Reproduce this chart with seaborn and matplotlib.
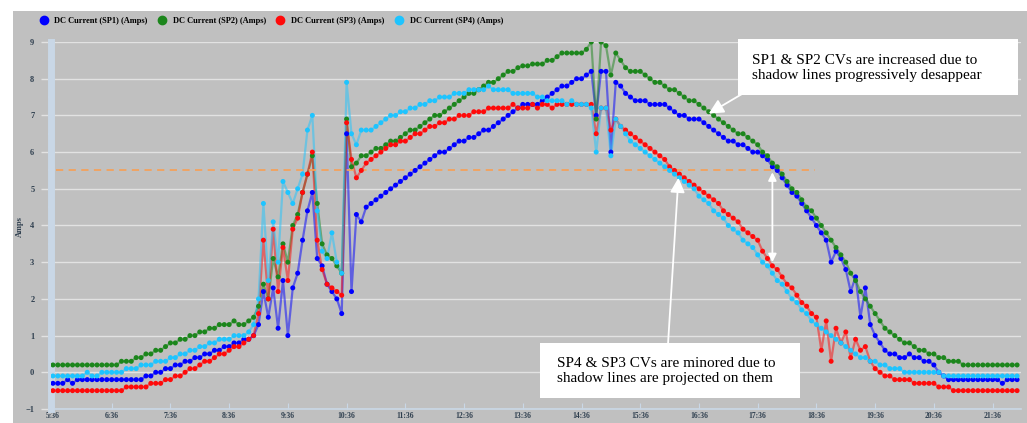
import matplotlib
matplotlib.use('Agg')
import matplotlib.pyplot as plt
import matplotlib.dates as mdates
from matplotlib.patches import Rectangle
from matplotlib.lines import Line2D
import seaborn as sns
import numpy as np
import pandas as pd

# readings every 5 minutes from 5:36 to 22:01 (one row per hour)
times = pd.date_range('2021-06-21 05:36', periods=198, freq='5min')

sp1 = [
    -0.3, -0.3, -0.3, -0.2, -0.3, -0.2, -0.2, -0.2, -0.2, -0.2, -0.2, -0.2,
    -0.2, -0.2, -0.2, -0.2, -0.2, -0.2, -0.2, -0.1, -0.1, 0.0, 0.0, 0.1,
    0.1, 0.2, 0.2, 0.3, 0.3, 0.4, 0.4, 0.5, 0.5, 0.6, 0.6, 0.7,
    0.7, 0.8, 0.8, 0.9, 0.9, 1.0, 1.3, 2.2, 1.5, 2.3, 1.2, 2.5,
    1.0, 2.3, 2.7, 3.6, 4.4, 4.9, 3.1, 2.9, 2.4, 2.2, 2.0, 1.6,
    6.5, 2.2, 4.3, 4.1, 4.5, 4.6, 4.7, 4.8, 4.9, 5.0, 5.1, 5.2,
    5.3, 5.4, 5.5, 5.6, 5.7, 5.8, 5.9, 6.0, 6.0, 6.1, 6.2, 6.3,
    6.3, 6.4, 6.4, 6.5, 6.6, 6.6, 6.7, 6.8, 6.9, 7.0, 7.1, 7.2,
    7.3, 7.3, 7.3, 7.3, 7.4, 7.5, 7.6, 7.7, 7.8, 7.8, 7.9, 8.0,
    8.0, 8.1, 8.2, 7.0, 8.2, 8.2, 6.0, 7.9, 7.8, 7.6, 7.5, 7.4,
    7.4, 7.4, 7.3, 7.3, 7.3, 7.3, 7.2, 7.1, 7.0, 7.0, 6.9, 6.9,
    6.9, 6.8, 6.7, 6.6, 6.5, 6.4, 6.3, 6.3, 6.2, 6.2, 6.1, 6.0,
    6.0, 5.9, 5.8, 5.6, 5.5, 5.3, 5.1, 4.9, 4.8, 4.6, 4.4, 4.2,
    4.0, 3.8, 3.6, 3.0, 3.3, 3.1, 2.8, 2.2, 2.6, 1.5, 2.3, 1.3,
    1.0, 0.8, 0.6, 0.5, 0.5, 0.4, 0.4, 0.5, 0.4, 0.4, 0.3, 0.3,
    0.2, 0.0, -0.1, -0.2, -0.2, -0.2, -0.2, -0.2, -0.2, -0.2, -0.2, -0.2,
    -0.2, -0.2, -0.3, -0.2, -0.2, -0.2,
]

sp2 = [
    0.2, 0.2, 0.2, 0.2, 0.2, 0.2, 0.2, 0.2, 0.2, 0.2, 0.2, 0.2,
    0.2, 0.2, 0.3, 0.3, 0.3, 0.4, 0.4, 0.5, 0.5, 0.6, 0.6, 0.7,
    0.8, 0.8, 0.9, 0.9, 1.0, 1.0, 1.1, 1.1, 1.2, 1.2, 1.3, 1.3,
    1.3, 1.4, 1.3, 1.3, 1.4, 1.5, 1.8, 2.4, 2.0, 3.1, 2.6, 3.5,
    3.0, 4.0, 4.3, 4.9, 5.4, 5.9, 4.6, 3.5, 3.2, 3.1, 2.9, 2.7,
    6.9, 5.6, 5.7, 5.9, 5.9, 6.0, 6.1, 6.1, 6.2, 6.3, 6.3, 6.4,
    6.5, 6.6, 6.6, 6.7, 6.8, 6.9, 7.0, 7.0, 7.1, 7.2, 7.3, 7.4,
    7.5, 7.6, 7.6, 7.7, 7.8, 7.9, 7.9, 8.0, 8.1, 8.2, 8.2, 8.3,
    8.35, 8.35, 8.4, 8.4, 8.4, 8.5, 8.5, 8.6, 8.7, 8.7, 8.7, 8.7,
    8.7, 8.8, 9.0, 6.9, 9.0, 8.9, 8.1, 8.7, 8.5, 8.3, 8.2, 8.2,
    8.2, 8.1, 8.0, 7.9, 7.9, 7.8, 7.7, 7.7, 7.6, 7.5, 7.4, 7.4,
    7.3, 7.2, 7.1, 7.0, 6.9, 6.8, 6.7, 6.6, 6.5, 6.5, 6.4, 6.3,
    6.2, 6.0, 5.9, 5.7, 5.6, 5.4, 5.2, 5.0, 4.9, 4.7, 4.5, 4.4,
    4.2, 4.0, 3.8, 3.6, 3.4, 3.2, 3.0, 2.7, 2.5, 2.2, 2.0, 1.8,
    1.6, 1.4, 1.2, 1.1, 1.0, 0.9, 0.8, 0.8, 0.7, 0.6, 0.6, 0.5,
    0.5, 0.4, 0.4, 0.3, 0.3, 0.3, 0.2, 0.2, 0.2, 0.2, 0.2, 0.2,
    0.2, 0.2, 0.2, 0.2, 0.2, 0.2,
]

sp3 = [
    -0.5, -0.5, -0.5, -0.5, -0.5, -0.5, -0.5, -0.5, -0.5, -0.5, -0.5, -0.5,
    -0.5, -0.5, -0.5, -0.4, -0.4, -0.4, -0.4, -0.4, -0.3, -0.3, -0.3, -0.2,
    -0.2, -0.1, -0.1, 0.0, 0.1, 0.1, 0.2, 0.3, 0.3, 0.4, 0.5, 0.5,
    0.6, 0.7, 0.7, 0.8, 0.9, 1.0, 1.6, 3.6, 2.0, 3.9, 2.2, 3.4,
    2.5, 3.9, 4.2, 4.9, 5.4, 6.0, 3.6, 2.8, 2.4, 2.3, 2.2, 2.1,
    6.8, 5.8, 5.3, 5.5, 5.7, 5.8, 5.9, 6.0, 6.1, 6.2, 6.2, 6.3,
    6.3, 6.4, 6.5, 6.5, 6.6, 6.7, 6.7, 6.8, 6.8, 6.9, 6.9, 7.0,
    7.0, 7.0, 7.1, 7.1, 7.1, 7.2, 7.2, 7.2, 7.2, 7.2, 7.3, 7.2,
    7.2, 7.2, 7.3, 7.2, 7.3, 7.3, 7.2, 7.3, 7.3, 7.3, 7.3, 7.3,
    7.3, 7.3, 7.3, 6.5, 7.2, 7.2, 6.6, 6.9, 6.7, 6.6, 6.5, 6.4,
    6.3, 6.2, 6.1, 6.0, 5.9, 5.8, 5.6, 5.5, 5.4, 5.3, 5.2, 5.1,
    5.0, 4.9, 4.8, 4.7, 4.6, 4.4, 4.3, 4.2, 4.1, 3.9, 3.8, 3.7,
    3.6, 3.3, 3.1, 2.9, 2.8, 2.6, 2.4, 2.3, 2.1, 1.9, 1.8, 1.6,
    1.5, 0.6, 1.4, 0.3, 1.2, 0.8, 1.1, 0.4, 0.9, 0.6, 0.7, 0.3,
    0.1, 0.0, -0.1, -0.1, -0.2, -0.2, -0.2, -0.2, -0.3, -0.3, -0.3, -0.3,
    -0.3, -0.4, -0.4, -0.4, -0.5, -0.5, -0.5, -0.5, -0.5, -0.5, -0.5, -0.5,
    -0.5, -0.5, -0.5, -0.5, -0.5, -0.5,
]

sp4 = [
    -0.1, -0.1, -0.1, -0.1, -0.1, -0.1, -0.1, 0.0, -0.1, -0.1, 0.0, 0.0,
    0.0, 0.0, 0.0, 0.1, 0.1, 0.1, 0.2, 0.2, 0.2, 0.3, 0.3, 0.3,
    0.4, 0.4, 0.5, 0.5, 0.6, 0.6, 0.7, 0.7, 0.8, 0.8, 0.9, 0.9,
    0.9, 1.0, 1.0, 1.0, 1.1, 1.3, 2.0, 4.6, 2.5, 4.1, 3.0, 5.2,
    4.9, 4.6, 5.0, 5.4, 6.6, 7.0, 4.4, 3.3, 3.1, 3.8, 3.0, 2.7,
    7.9, 6.5, 6.2, 6.6, 6.6, 6.6, 6.7, 6.8, 6.9, 7.0, 7.0, 7.1,
    7.1, 7.2, 7.2, 7.3, 7.3, 7.4, 7.4, 7.5, 7.5, 7.5, 7.6, 7.6,
    7.6, 7.7, 7.7, 7.7, 7.7, 7.8, 7.7, 7.7, 7.7, 7.7, 7.6, 7.6,
    7.6, 7.6, 7.6, 7.5, 7.5, 7.4, 7.4, 7.4, 7.4, 7.3, 7.4, 7.3,
    7.3, 7.3, 7.2, 6.0, 7.2, 7.2, 5.9, 6.9, 6.7, 6.5, 6.3, 6.2,
    6.1, 6.0, 5.9, 5.8, 5.7, 5.6, 5.5, 5.4, 5.3, 5.2, 5.1, 5.0,
    4.8, 4.7, 4.6, 4.4, 4.3, 4.2, 4.0, 3.9, 3.8, 3.6, 3.5, 3.4,
    3.2, 3.0, 2.9, 2.7, 2.5, 2.4, 2.2, 2.0, 1.9, 1.7, 1.6, 1.4,
    1.3, 1.2, 1.1, 1.0, 0.9, 0.8, 0.7, 0.6, 0.5, 0.4, 0.4, 0.3,
    0.3, 0.2, 0.2, 0.1, 0.1, 0.1, 0.0, 0.0, 0.0, 0.0, 0.0, 0.0,
    0.0, 0.0, -0.1, -0.1, -0.1, -0.1, -0.1, -0.1, -0.1, -0.1, -0.1, -0.1,
    -0.1, -0.1, -0.1, -0.1, -0.1, -0.1,
]

series_names = ['DC Current (SP1) (Amps)', 'DC Current (SP2) (Amps)',
                'DC Current (SP3) (Amps)', 'DC Current (SP4) (Amps)']
colors = ['#0000ff', '#1c861c', '#ff0a0a', '#1ec4ff']

# orange reference level and its time span
threshold = 5.5
threshold_start = pd.Timestamp('2021-06-21 05:39')
threshold_end = pd.Timestamp('2021-06-21 18:35')

tick_times = pd.date_range('2021-06-21 05:36', '2021-06-21 21:36', freq='1h')

note_top = 'SP1 & SP2 CVs are increased due to\nshadow lines progressively desappear'
note_bottom = 'SP4 & SP3 CVs are minored due to\nshadow lines are projected on them'

# long table for seaborn
wide = pd.DataFrame({'time': times, series_names[0]: sp1, series_names[1]: sp2,
                     series_names[2]: sp3, series_names[3]: sp4})
df = wide.melt(id_vars='time', var_name='series', value_name='amps')

plt.rcParams['font.family'] = ['Liberation Serif', 'DejaVu Serif']

W, H = 1027, 423
fig = plt.figure(figsize=(W / 100, H / 100), dpi=100)
fig.patch.set_facecolor('white')
fig.patches.append(Rectangle((13 / W, 0), 1, 1 - 11 / H, transform=fig.transFigure,
                             facecolor='#c0c0c0', edgecolor='none', zorder=-10))

ax = fig.add_axes([51 / W, 14 / H, (1021 - 51) / W, (409 - 42) / H])
ax.set_facecolor('#c0c0c0')

sns.lineplot(data=df, x='time', y='amps', hue='series', palette=colors,
             estimator=None, linewidth=1.6, alpha=0.5, legend=False, ax=ax)
sns.scatterplot(data=df, x='time', y='amps', hue='series', palette=colors,
                s=13, linewidth=0, legend=False, ax=ax, zorder=3)

ax.hlines(threshold, mdates.date2num(threshold_start), mdates.date2num(threshold_end),
          colors='#f4a15c', linestyles=(0, (4, 3)), linewidth=1.3, zorder=2.5)

ax.set_xlim(pd.Timestamp('2021-06-21 05:34'), pd.Timestamp('2021-06-21 22:05'))
ax.set_ylim(-1, 9)
ax.set_yticks(np.arange(-1, 10))
ax.set_yticks(np.arange(-0.5, 9, 1.0), minor=True)
ax.set_xticks(tick_times)
ax.set_xticklabels([f'{t.hour}:{t.minute:02d}' for t in tick_times])
ax.set_xlabel('')
ax.set_ylabel('')

ax.grid(axis='y', color='#e2e2e2', linewidth=1)
ax.set_axisbelow(True)
for s in ['top', 'right']:
    ax.spines[s].set_visible(False)
ax.spines['left'].set_color('#c9d7e6')
ax.spines['left'].set_linewidth(5)
ax.spines['bottom'].set_color('#c9d7e6')
ax.spines['bottom'].set_linewidth(1.2)

ax.tick_params(axis='y', which='major', direction='out', length=7, width=1,
               color='#e2e2e2', pad=5, labelsize=6, labelcolor='#2f3f4f')
ax.tick_params(axis='y', which='minor', direction='inout', length=5, width=1.2,
               color='#f2f2f2')
ax.tick_params(axis='x', direction='in', length=4, color='#c9d7e6', pad=2,
               labelsize=5.5, labelcolor='#2f3f4f')
for lab in ax.get_xticklabels() + ax.get_yticklabels():
    lab.set_fontweight('bold')

fig.text(20 / W, 1 - 227 / H, 'Amps', rotation=90, ha='center', va='center',
         fontsize=6, fontweight='bold', color='#2f3f4f')

handles = [Line2D([], [], marker='o', linestyle='', color=c, markersize=6) for c in colors]
fig.legend(handles, series_names, loc='center left', bbox_to_anchor=(32 / W, 1 - 21 / H),
           ncol=4, frameon=False, prop={'size': 6, 'weight': 'bold'},
           handlelength=1, handletextpad=0.8, columnspacing=1.2)

# white note boxes (figure pixels) with their arrows
def px(x, y):
    return (x / W, 1 - y / H)

for (x0, y0, x1, y1) in [(738, 39, 1018, 95), (540, 343, 800, 398)]:
    fig.patches.append(Rectangle(px(x0, y1), (x1 - x0) / W, (y1 - y0) / H,
                                 transform=fig.transFigure, facecolor='white',
                                 edgecolor='none', zorder=4))
fig.text(*px(752, 68), note_top, ha='left', va='center', fontsize=11, zorder=6)
fig.text(*px(557, 371), note_bottom, ha='left', va='center', fontsize=11, zorder=6)

arrow = dict(arrowstyle='-|>', color='white', lw=1.3, mutation_scale=22,
             shrinkA=0, shrinkB=0)
ax.annotate('', xy=(mdates.date2num(pd.Timestamp('2021-06-21 16:46')), 7.05),
            xycoords='data', xytext=px(742, 94), textcoords='figure fraction',
            arrowprops=arrow, zorder=5)
ax.annotate('', xy=(mdates.date2num(pd.Timestamp('2021-06-21 16:15')), 5.3),
            xycoords='data', xytext=px(668, 344), textcoords='figure fraction',
            arrowprops=arrow, zorder=5)
t_arrow = mdates.date2num(pd.Timestamp('2021-06-21 17:51'))
ax.annotate('', xy=(t_arrow, 5.45), xytext=(t_arrow, 3.0), xycoords='data',
            arrowprops=dict(arrowstyle='<|-|>', color='white', lw=1.3, mutation_scale=12,
                            shrinkA=0, shrinkB=0), zorder=5)

fig.savefig('out.png', dpi=100)
